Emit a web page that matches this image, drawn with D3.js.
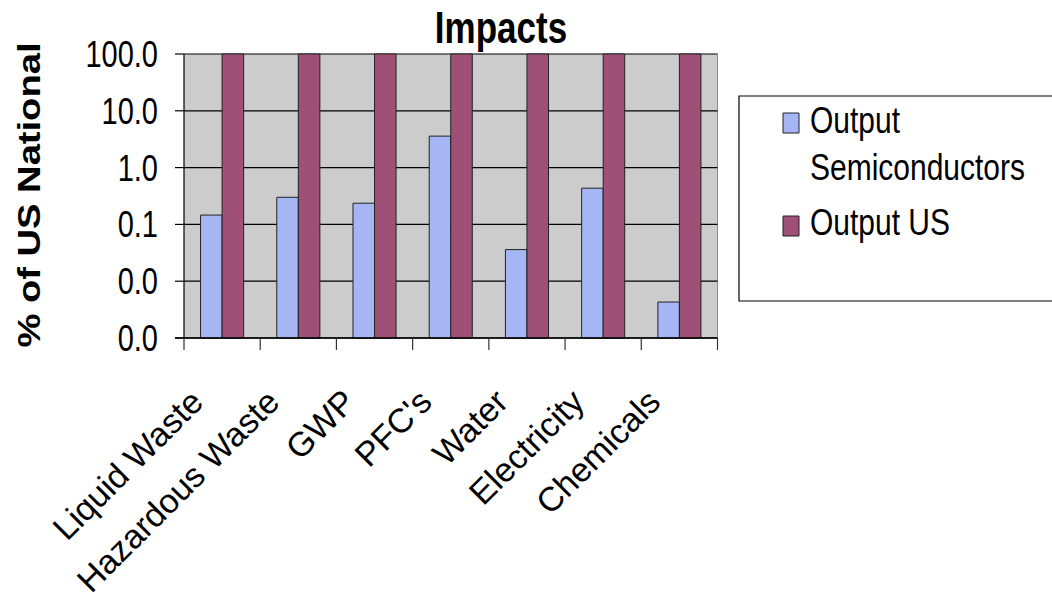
<!DOCTYPE html>
<html>
<head>
<meta charset="utf-8">
<script src="https://cdn.jsdelivr.net/npm/d3@7"></script>
<style>
  html, body { margin: 0; padding: 0; background: #fff; }
  svg { display: block; }
  text { font-family: "Liberation Sans", Arial, sans-serif; fill: #000; }
  .ns { vector-effect: non-scaling-stroke; }
</style>
</head>
<body>
<svg id="chart" width="1052" height="611"></svg>
<script>
// Impact categories and the two output series (% of US national, log axis)
const categories = ["Liquid Waste", "Hazardous Waste", "GWP", "PFC's", "Water", "Electricity", "Chemicals"];
const seriesNames = ["Output Semiconductors", "Output US"];
const semiconductors = [0.146, 0.30, 0.236, 3.58, 0.036, 0.434, 0.0043];
const outputUS = [100, 100, 100, 100, 100, 100, 100];
const yTicks = [0.001, 0.01, 0.1, 1, 10, 100];
const colors = ["#a6b6f5", "#9e5077"];

// Plot body is laid out in a vertically condensed frame, then stretched.
const K = 1.25;
const plotLeft = 184, plotRight = 717.5, plotTop = 54 / K, plotBottom = 338 / K;

const svg = d3.select("#chart");
const g = svg.append("g").attr("transform", `scale(1,${K})`);

const x = d3.scaleBand().domain(categories).range([plotLeft, plotRight]).padding(0);
const x1 = d3.scaleBand().domain([0, 1]).range([0, x.bandwidth()]).paddingInner(0).paddingOuter(0.77);
const y = d3.scaleLog().domain([0.001, 100]).range([plotBottom, plotTop]);

const rows = categories.map((c, i) => ({ cat: c, vals: [semiconductors[i], outputUS[i]] }));

// plot background
g.append("rect").attr("x", plotLeft).attr("y", plotTop)
  .attr("width", plotRight - plotLeft).attr("height", plotBottom - plotTop)
  .attr("fill", "#cccccc");

// right edge of plot area
g.append("line").attr("class", "ns")
  .attr("x1", plotRight).attr("x2", plotRight).attr("y1", plotTop).attr("y2", plotBottom)
  .attr("stroke", "#8a8a8a").attr("stroke-width", 1);

// horizontal gridlines
g.selectAll("line.grid").data(yTicks).join("line")
  .attr("class", "grid ns")
  .attr("x1", plotLeft).attr("x2", plotRight)
  .attr("y1", d => y(d)).attr("y2", d => y(d))
  .attr("stroke", "#000").attr("stroke-width", 1.2);

// bars
g.selectAll("g.cat").data(rows).join("g")
  .attr("class", "cat")
  .attr("transform", d => `translate(${x(d.cat)},0)`)
  .selectAll("rect").data(d => d.vals.map((v, j) => ({ v, j }))).join("rect")
  .attr("class", "ns")
  .attr("x", d => x1(d.j))
  .attr("width", x1.bandwidth())
  .attr("y", d => y(d.v))
  .attr("height", d => plotBottom - y(d.v))
  .attr("fill", d => colors[d.j])
  .attr("stroke", "#222").attr("stroke-width", 1);

// y axis line + ticks
g.append("line").attr("class", "ns")
  .attr("x1", plotLeft).attr("x2", plotLeft).attr("y1", plotTop).attr("y2", plotBottom)
  .attr("stroke", "#000").attr("stroke-width", 1.2);
g.selectAll("line.ytick").data(yTicks).join("line")
  .attr("class", "ytick ns")
  .attr("x1", plotLeft - 9).attr("x2", plotLeft)
  .attr("y1", d => y(d)).attr("y2", d => y(d))
  .attr("stroke", "#000").attr("stroke-width", 1.2);

const fmt = d3.format(".1f");
g.selectAll("text.ylab").data(yTicks).join("text")
  .attr("class", "ylab")
  .attr("x", 158).attr("y", d => y(d)).attr("dy", "0.36em")
  .attr("text-anchor", "end")
  .attr("font-size", 29)
  .text(d => fmt(d));

// x axis line + ticks at category boundaries
g.append("line").attr("class", "ns")
  .attr("x1", plotLeft - 9).attr("x2", plotRight).attr("y1", plotBottom).attr("y2", plotBottom)
  .attr("stroke", "#000").attr("stroke-width", 1.5);
const bounds = categories.map(c => x(c)).concat([x.range()[1]]);
g.selectAll("line.xtick").data(bounds).join("line")
  .attr("class", "xtick ns")
  .attr("x1", d => d).attr("x2", d => d)
  .attr("y1", plotBottom).attr("y2", plotBottom + 12 / K)
  .attr("stroke", "#333").attr("stroke-width", 1.2);

// category labels at 45 degrees, drawn in the unstretched frame
svg.append("g").selectAll("text.xlab").data(categories).join("text")
  .attr("class", "xlab")
  .attr("text-anchor", "end")
  .attr("font-size", 34)
  .attr("transform", d => `translate(${x(d) + x.bandwidth() / 2 - 17},${plotBottom * K + 66}) rotate(-45)`)
  .text(d => d);

// title
g.append("text")
  .attr("x", 501).attr("y", 42.7 / K)
  .attr("text-anchor", "middle")
  .attr("font-size", 35).attr("font-weight", "bold")
  .text("Impacts");

// y axis title
g.append("text")
  .attr("transform", `translate(40,${195 / K}) rotate(-90)`)
  .attr("text-anchor", "middle")
  .attr("font-size", 30.5).attr("font-weight", "bold")
  .text("% of US National");

// legend
const lg = g.append("g");
lg.append("rect").attr("class", "ns")
  .attr("x", 739).attr("y", 96 / K)
  .attr("width", 340).attr("height", (301 - 96) / K)
  .attr("fill", "#fff").attr("stroke", "#000").attr("stroke-width", 1.2);
const legendRows = [
  { name: seriesNames[0], lines: ["Output", "Semiconductors"], sy: 113, ty: 133 },
  { name: seriesNames[1], lines: ["Output US"], sy: 216, ty: 235 }
];
legendRows.forEach((r, i) => {
  lg.append("rect").attr("class", "ns")
    .attr("x", 783).attr("y", r.sy / K)
    .attr("width", 16).attr("height", 20 / K)
    .attr("fill", colors[i]).attr("stroke", "#222").attr("stroke-width", 1);
  const t = lg.append("text").attr("font-size", 30)
    .attr("x", 810).attr("y", r.ty / K);
  r.lines.forEach((ln, k) => {
    t.append("tspan").attr("x", 810).attr("dy", k === 0 ? 0 : 47 / K).text(ln);
  });
});
</script>
</body>
</html>
